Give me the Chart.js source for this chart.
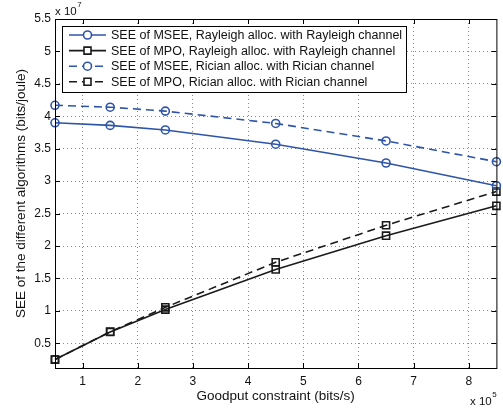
<!DOCTYPE html>
<html>
<head>
<meta charset="utf-8">
<script src="https://cdn.jsdelivr.net/npm/chart.js@4/dist/chart.umd.min.js"></script>
<style>
  body { margin: 0; background: #fff; }
  canvas { display: block; }
</style>
</head>
<body>
<canvas id="myChart" width="503" height="411"></canvas>
<script>
// goodput constraint, in units of 10^5 bits/s
const goodput = [0.5, 1.5, 2.5, 4.5, 6.5, 8.5];
// SEE values, in units of 10^7 bits/joule
const mseeRayleigh = [3.90, 3.86, 3.79, 3.57, 3.28, 2.93];
const mpoRayleigh = [0.25, 0.675, 1.02, 1.64, 2.16, 2.62];
const mseeRician = [4.17, 4.14, 4.08, 3.89, 3.62, 3.30];
const mpoRician = [0.25, 0.68, 1.055, 1.75, 2.32, 2.84];

const xTicks = [1, 2, 3, 4, 5, 6, 7, 8];
const yTicks = [0.5, 1, 1.5, 2, 2.5, 3, 3.5, 4, 4.5, 5, 5.5];

const seriesNames = [
  "SEE of MSEE, Rayleigh alloc. with Rayleigh channel",
  "SEE of MPO, Rayleigh alloc. with Rayleigh channel",
  "SEE of MSEE, Rician alloc. with Rician channel",
  "SEE of MPO, Rician alloc. with Rician channel",
];
const xTitle = "Goodput constraint (bits/s)";
const yTitle = "SEE of the different algorithms (bits/joule)";

const BLUE = "#2f55a8";
const BLACK = "#1a1a1a";
const FONT = "Liberation Sans, Arial, sans-serif";

const toPoints = (ys) => ys.map((y, i) => ({ x: goodput[i], y: y }));

function makeSet(label, ys, color, dashed, style) {
  return {
    label: label,
    data: toPoints(ys),
    borderColor: color,
    backgroundColor: color,
    borderWidth: 1.6,
    borderDash: dashed ? [8, 5] : [],
    pointStyle: style,
    pointRadius: style === "rect" ? 5 : 4,
    pointBorderWidth: 1.6,
    pointBorderColor: color,
    pointBackgroundColor: "rgba(0,0,0,0)",
    tension: 0,
    fill: false,
    clip: false,
  };
}

// "x 10^n" label
function drawExponent(ctx, x, y, n) {
  ctx.font = "11.5px " + FONT;
  ctx.fillText("x 10", x, y);
  const w = ctx.measureText("x 10").width;
  ctx.font = "8px " + FONT;
  ctx.fillText(n, x + w + 0.5, y - 8);
}

// frame, inward ticks, titles, legend and exponent labels (MATLAB look)
const matlabBits = {
  id: "matlabBits",
  afterDraw(chart) {
    const ctx = chart.ctx;
    const a = chart.chartArea;
    const xs = chart.scales.x;
    const ys = chart.scales.y;
    ctx.save();
    ctx.strokeStyle = "#000";
    ctx.lineWidth = 1;
    ctx.setLineDash([]);
    ctx.strokeRect(a.left + 0.5, a.top + 0.5, a.right - a.left, a.bottom - a.top);
    ctx.beginPath();
    xTicks.forEach((v) => {
      const px = Math.round(xs.getPixelForValue(v)) + 0.5;
      ctx.moveTo(px, a.bottom); ctx.lineTo(px, a.bottom - 5);
      ctx.moveTo(px, a.top); ctx.lineTo(px, a.top + 5);
    });
    yTicks.forEach((v) => {
      const py = Math.round(ys.getPixelForValue(v)) + 0.5;
      ctx.moveTo(a.left, py); ctx.lineTo(a.left + 5, py);
      ctx.moveTo(a.right, py); ctx.lineTo(a.right - 5, py);
    });
    ctx.stroke();

    // axis titles
    ctx.fillStyle = "#111";
    ctx.font = "13.5px " + FONT;
    ctx.textAlign = "center";
    ctx.textBaseline = "alphabetic";
    ctx.fillText(xTitle, (a.left + a.right) / 2, 399.5);
    ctx.save();
    ctx.translate(25, (a.top + a.bottom) / 2);
    ctx.rotate(-Math.PI / 2);
    ctx.fillText(yTitle, 0, 0);
    ctx.restore();
    ctx.textAlign = "left";

    // legend
    const lx = 62, ly = 26, lw = 344, lh = 66;
    ctx.fillStyle = "#fff";
    ctx.fillRect(lx, ly, lw, lh);
    ctx.strokeRect(lx + 0.5, ly + 0.5, lw, lh);
    ctx.font = "12.5px " + FONT;
    ctx.textBaseline = "middle";
    chart.data.datasets.forEach((ds, i) => {
      const y = 35 + i * 15.6;
      ctx.strokeStyle = ds.borderColor;
      ctx.lineWidth = 1.6;
      ctx.setLineDash(ds.borderDash);
      ctx.beginPath();
      ctx.moveTo(69, y); ctx.lineTo(106, y);
      ctx.stroke();
      ctx.setLineDash([]);
      ctx.beginPath();
      if (ds.pointStyle === "circle") {
        ctx.arc(87.5, y, 4, 0, Math.PI * 2);
      } else {
        ctx.rect(84, y - 3.5, 7, 7);
      }
      ctx.fillStyle = "#fff";
      ctx.fill();
      ctx.stroke();
      ctx.fillStyle = "#111";
      ctx.fillText(ds.label, 111, y + 0.5);
    });

    // exponents
    ctx.fillStyle = "#111";
    ctx.textBaseline = "alphabetic";
    drawExponent(ctx, 55, 15, "7");
    drawExponent(ctx, 470, 405, "5");
    ctx.restore();
  },
};

const ctx = document.getElementById("myChart");
new Chart(ctx, {
  type: "line",
  data: {
    datasets: [
      makeSet(seriesNames[0], mseeRayleigh, BLUE, false, "circle"),
      makeSet(seriesNames[1], mpoRayleigh, BLACK, false, "rect"),
      makeSet(seriesNames[2], mseeRician, BLUE, true, "circle"),
      makeSet(seriesNames[3], mpoRician, BLACK, true, "rect"),
    ],
  },
  options: {
    responsive: false,
    animation: false,
    layout: { padding: { left: 0, top: 19, right: 6, bottom: 0 } },
    scales: {
      x: {
        type: "linear",
        min: 0.5,
        max: 8.5,
        afterBuildTicks: (scale) => {
          scale.ticks = xTicks.map((v) => ({ value: v }));
        },
        afterFit: (scale) => {
          scale.height = 43;
        },
        grid: { color: "#8a8a8a", lineWidth: 1, drawTicks: false },
        border: { display: false, dash: [1, 3] },
        ticks: {
          color: "#111",
          padding: 6,
          font: { family: FONT, size: 12 },
          callback: (v) => String(v),
        },
        title: { display: false },
      },
      y: {
        type: "linear",
        min: 0.12,
        max: 5.5,
        afterBuildTicks: (scale) => {
          scale.ticks = yTicks.map((v) => ({ value: v }));
        },
        afterFit: (scale) => {
          scale.width = 55;
        },
        grid: { color: "#8a8a8a", lineWidth: 1, drawTicks: false },
        border: { display: false, dash: [1, 3] },
        ticks: {
          color: "#111",
          padding: 4,
          font: { family: FONT, size: 12 },
          callback: (v) => String(v),
        },
        title: { display: false },
      },
    },
    plugins: {
      legend: { display: false },
      tooltip: { enabled: false },
    },
  },
  plugins: [matlabBits],
});
</script>
</body>
</html>
